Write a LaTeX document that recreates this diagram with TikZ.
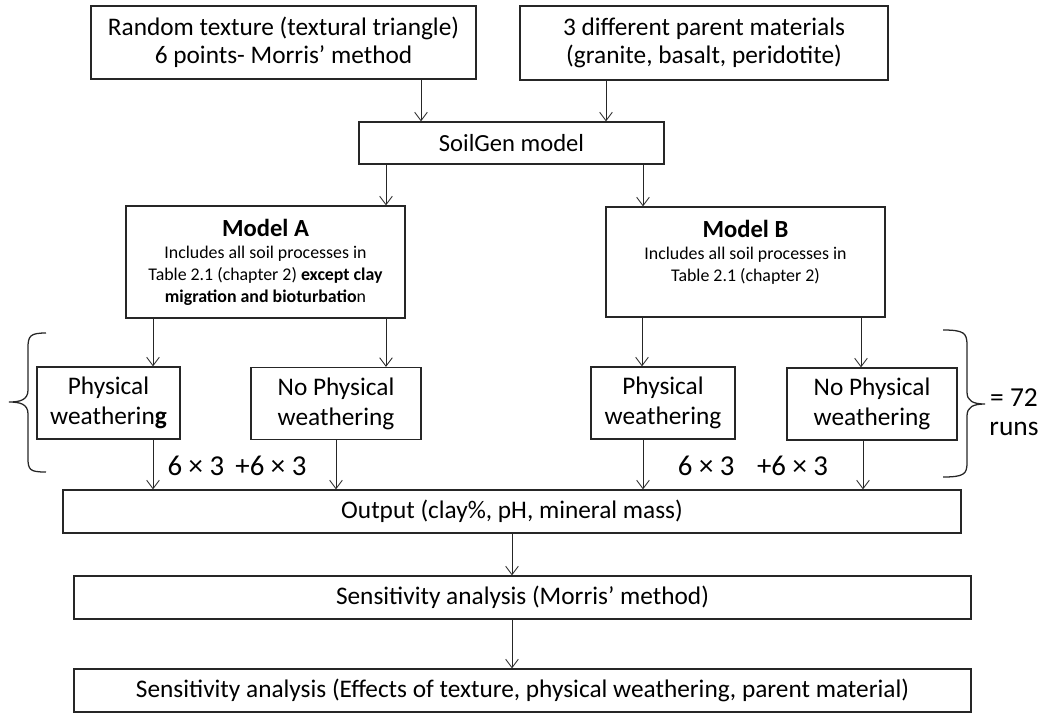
\documentclass[tikz,border=0pt]{standalone}
\usepackage{fontspec}
\setmainfont{Carlito}
\usepackage{tikz}
\usetikzlibrary{arrows.meta,positioning}

\begin{document}
\begin{tikzpicture}[
  x=0.025cm, y=-0.025cm,
  box/.style={draw=black!85, line width=0.9pt, align=center, inner sep=2pt},
  topbox/.style={box, font=\fontsize{18}{20}\selectfont},
  modelbox/.style={box, minimum width=6.975cm, minimum height=2.8cm, font=\fontsize{12.7}{15.6}\selectfont},
  wbox/.style={box, minimum height=1.8cm, font=\fontsize{18}{21.5}\selectfont},
  widebox/.style={box, minimum height=1.075cm, font=\fontsize{18}{20}\selectfont},
  arrow/.style={-{Straight Barb[length=6pt, width=9pt]}, line width=0.6pt, draw=black!85},
  brace/.style={line width=0.9pt, draw=black!85}
]
\useasboundingbox (0,0) rectangle (1040,713);

\node[topbox, minimum width=9.625cm, minimum height=1.825cm] (texture) at (283.5,42.5)
  {Random texture (textural triangle)\\6 points- Morris’ method};
\node[topbox, minimum width=9.2cm, minimum height=1.85cm] (parent) at (704,43)
  {3 different parent materials\\(granite, basalt, peridotite)};
\node[topbox, minimum width=7.625cm, minimum height=1.05cm, font=\fontsize{17.5}{20}\selectfont] (soilgen) at (511.5,143) {SoilGen model};

\node[modelbox] (modelA) at (265.5,262)
  {{\fontsize{17.5}{20}\selectfont\bfseries Model A}\\
   Includes all soil processes in\\
   Table 2.1 (chapter 2) \textbf{except clay}\\
   \textbf{migration and bioturbatio}n};
\node[modelbox, minimum height=2.75cm] (modelB) at (745.5,262)
  {{\fontsize{17.5}{20}\selectfont\bfseries Model B}\\
   Includes all soil processes in\\
   Table 2.1 (chapter 2)\\
   ~};

\node[wbox, minimum width=3.575cm] (physA) at (108.5,403) {Physical\\weatherin\textbf{g}};
\node[wbox, minimum width=4.25cm] (nophysA) at (336,403.5) {No Physical\\weathering};
\node[wbox, minimum width=3.6cm] (physB) at (663,403) {Physical\\weathering};
\node[wbox, minimum width=4.25cm] (nophysB) at (872,404) {No Physical\\weathering};

\node[widebox, minimum width=22.45cm] (output) at (512,511.5) {Output (clay\%, pH, mineral mass)};
\node[widebox, minimum width=22.425cm] (morris) at (522.5,597.5) {Sensitivity analysis (Morris’ method)};
\node[widebox, minimum width=22.425cm] (effects) at (522.5,690.5)
  {Sensitivity analysis (Effects of texture, physical weathering, parent material)};

% run counts
\node[font=\fontsize{20.5}{22}\selectfont] (countA) at (237,466) {6 × 3 \,+6 × 3};
\node[font=\fontsize{20.5}{22}\selectfont] (countB) at (753,466) {6 × 3 \;\;+6 × 3};
\node[font=\fontsize{19.5}{21}\selectfont, align=center, inner sep=1pt] (runs) at (1014,412) {= 72\\runs};

% braces
\draw[brace] (46,333) .. controls (30,333) and (28,336) .. (28,348) -- (28,390)
  .. controls (28,400) and (20,402) .. (9,402)
  .. controls (20,402) and (28,404) .. (28,414) -- (28,458)
  .. controls (28,470) and (30,472) .. (46,472);
\draw[brace] (943,330) .. controls (964,330) and (967,333) .. (967,345) -- (967,392)
  .. controls (967,401) and (973,404) .. (985,404)
  .. controls (973,404) and (967,407) .. (967,416) -- (967,463)
  .. controls (967,474) and (964,477) .. (943,477);

\draw[arrow] (texture.south -| 421,0) -- (soilgen.north -| 421,0);
\draw[arrow] (parent.south -| 606,0) -- (soilgen.north -| 606,0);
\draw[arrow] (soilgen.south -| 386,0) -- (modelA.north -| 386,0);
\draw[arrow] (soilgen.south -| 643,0) -- (modelB.north -| 643,0);
\draw[arrow] (modelA.south -| 153,0) -- (physA.north -| 153,0);
\draw[arrow] (modelA.south -| 386,0) -- (nophysA.north -| 386,0);
\draw[arrow] (modelB.south -| 642,0) -- (physB.north -| 642,0);
\draw[arrow] (modelB.south -| 861,0) -- (nophysB.north -| 861,0);
\draw[arrow] (physA.south -| 153,0) -- (output.north -| 153,0);
\draw[arrow] (nophysA.south) -- (output.north -| nophysA.south);
\draw[arrow] (physB.south -| 643,0) -- (output.north -| 643,0);
\draw[arrow] (nophysB.south -| 863,0) -- (output.north -| 863,0);
\draw[arrow] (output.south) -- (morris.north -| output.south);
\draw[arrow] (morris.south -| output.south) -- (effects.north -| output.south);
\end{tikzpicture}
\end{document}
